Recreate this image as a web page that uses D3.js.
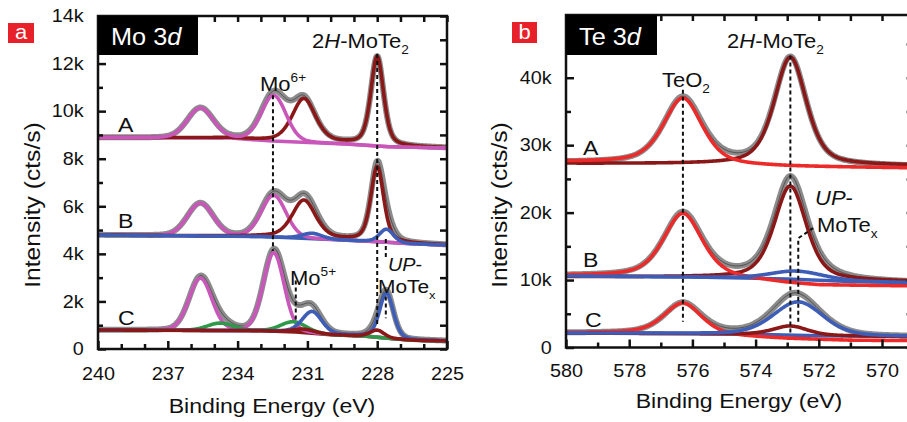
<!DOCTYPE html>
<html><head><meta charset="utf-8">
<script src="https://cdn.jsdelivr.net/npm/d3@7"></script>
<style>body{margin:0;background:#fff}svg{display:block}text{font-family:"Liberation Sans",Arial,Helvetica,sans-serif}</style>
</head><body><svg id="c" width="907" height="422"></svg>
<script>
// ---------- DATA ----------
// Panel a: Mo 3d
const moTicksX = [240, 237, 234, 231, 228, 225];
const moMinorX = [239,238,236,235,233,232,230,229,227,226];
const moTicksY = [0, 2000, 4000, 6000, 8000, 10000, 12000, 14000];
const moTickLabelsY = ["0","2k","4k","6k","8k","10k","12k","14k"];
const moMinorY = [1000, 3000, 5000, 7000, 9000, 11000, 13000];
// backgrounds [eV, cts/s]
const moBgA = [[240,8890],[234.3,8870],[232.5,8740],[229.4,8620],[227.5,8500],[225,8450]];
const moBgB = [[240,4790],[233,4730],[230,4600],[228,4510],[226.5,4420],[225,4370]];
const moBgC = [[240,800],[233,770],[231.5,710],[230,600],[228.5,540],[227.3,430],[226.5,370],[225,340]];
// peaks [centre eV, height cts/s, FWHM eV]
const moA_maroon = [[231.15,1830,1.2],[228.0,3750,0.65]];
const moA_pink   = [[235.6,1250,1.3],[232.45,1920,1.25]];
const moB_pink   = [[235.6,1370,1.3],[232.45,1750,1.25]];
const moB_maroon = [[231.15,1600,1.2],[228.0,3140,0.65]];
const moB_blue   = [[230.8,230,1.0],[227.6,550,0.7]];
const moC_pink   = [[235.6,2190,1.15],[232.45,3290,1.05]];
const moC_green  = [[234.75,310,1.3],[231.6,430,1.3]];
const moC_blue   = [[230.8,915,1.0],[227.6,1890,0.7]];
const moC_maroon = [[231.15,150,1.1],[228.0,300,0.7]];
// guide lines [eV, from cts/s, to cts/s]
const moGuides = [[232.48,10670,4125],[228.0,12400,1000],[231.5,2875,1200],[227.63,4625,3790],[227.63,2210,1290]];

// Panel b: Te 3d
const teTicksX = [580, 578, 576, 574, 572, 570];
const teMinorX = [579, 577, 575, 573, 571, 569];
const teTicksY = [0, 10000, 20000, 30000, 40000];
const teTickLabelsY = ["0","10k","20k","30k","40k"];
const teMinorY = [5000, 15000, 25000, 35000, 45000];
const teBgA = [[580,27400],[576,27250],[574,27050],[572,26850],[569,26800]];
const teBgA_red = [[580,27530],[577.5,27450],[576.3,27250],[575,27000],[573,26800],[569,26600]];
const teBgA_maroon = [[580,27290],[576,27200],[574,27150],[572.9,27050],[571.5,26950],[569,26950]];
const teBgB = [[580,10600],[576,10450],[574,10250],[573,10150],[571,9800],[569,9600]];
const teBgB_red = [[580,10650],[577,10550],[576.3,10450],[575,10250],[574,9950],[573,9500],[572,9200],[569,9100]];
const teBgB_maroon = [[580,10500],[576,10400],[574,10250],[572,9900],[569,9750]];
const teBgC = [[580,2150],[576,2050],[574,1950],[572,1750],[570,1650],[569,1630]];
const teBgC_red = [[580,2200],[577,2150],[576,2000],[575,1700],[573,1300],[571,1050],[569,1000]];
const teA_red    = [[576.3,9750,1.45]];
const teA_maroon = [[572.9,16000,1.2]];
const teB_red    = [[576.3,9450,1.45]];
const teB_maroon = [[572.9,13900,1.2]];
const teB_blue   = [[572.7,1230,2.0]];
const teC_red    = [[576.3,4550,1.4]];
const teC_maroon = [[572.9,1350,1.3]];
const teC_blue   = [[572.65,4950,1.85]];
const teGuides = [[576.3,38200,3800],[572.9,43300,1850]];
const teLeader = [[572.65,3800],[572.65,16200],[572.18,17700]];

// ---------- STYLE ----------
const PINK="#c957ba", MAROON="#8a1818", BLUE="#3e5db6", GREEN="#2f994a", RED="#ec2a2a", GRAY="#8c8c8c", LABELRED="#e8202a";
const SX = 1.1;
const svg = d3.select("#c");

function pv(E, c, a, w, eta){ const d=(E-c)/w; return a*(eta/(1+4*d*d)+(1-eta)*Math.exp(-4*Math.LN2*d*d)); }
function bgAt(pts, E){
  const s = pts.slice().sort((p,q)=>p[0]-q[0]);
  if (E<=s[0][0]) return s[0][1];
  if (E>=s[s.length-1][0]) return s[s.length-1][1];
  for (let i=1;i<s.length;i++) if (E<=s[i][0]) { const t=(E-s[i-1][0])/(s[i][0]-s[i-1][0]); return s[i-1][1]+t*(s[i][1]-s[i-1][1]); }
}
function label(g, x, y, parts, size, opts){
  opts = opts||{};
  const t = g.append("text").attr("transform",`translate(${x},${y}) scale(${SX},1)`)
    .attr("font-size", size).attr("text-anchor", opts.anchor||"start").attr("fill", opts.fill||"#111");
  let shift = 0;
  parts.forEach(p => {
    const [s, st] = p;
    const ts = t.append("tspan").text(s);
    let target = 0;
    if (st==="sub") { ts.attr("font-size", size*0.62); target = size*0.32; }
    else if (st==="sup") { ts.attr("font-size", size*0.62); target = -size*0.45; }
    else if (st==="i") { ts.attr("font-style","italic"); }
    if (target!==shift) { ts.attr("dy", target-shift); shift = target; }
  });
  return t;
}

function drawPanel(cfg){
  const x = d3.scaleLinear().domain(cfg.xDom).range(cfg.xRange);
  const y = d3.scaleLinear().domain(cfg.yDom).range(cfg.yRange);
  const g = svg.append("g");
  const [x0,x1] = cfg.xRange, [yb,yt] = cfg.yRange;
  const id = "clip"+cfg.id;
  svg.append("defs").append("clipPath").attr("id",id).append("rect")
    .attr("x",x0).attr("y",yt).attr("width",x1-x0).attr("height",yb-yt);
  const plot = g.append("g").attr("clip-path",`url(#${id})`);
  const lo = Math.min(...cfg.xDom), hi = Math.max(...cfg.xDom);
  const Es = d3.range(lo, hi+1e-9, 0.03);
  const line = d3.line().x(d=>x(d[0])).y(d=>y(d[1]));
  cfg.spectra.forEach(sp => {
    const total = Es.map(E => { let v = bgAt(sp.bg,E); sp.comps.forEach(c => c.peaks.forEach(p => v += pv(E,p[0],p[1],p[2],c.eta))); return [E,v]; });
    plot.append("path").datum(total).attr("d",line).attr("fill","none").attr("stroke",GRAY).attr("stroke-width",6).attr("stroke-linejoin","round");
    plot.append("path").datum(total).attr("d",line).attr("fill","none").attr("stroke","#222").attr("stroke-width",1).attr("opacity",0.55);
    if (sp.bgColor) plot.append("path").datum(sp.bg.slice().sort((a,b)=>a[0]-b[0])).attr("d",line).attr("fill","none").attr("stroke",sp.bgColor).attr("stroke-width",3.5);
    sp.comps.forEach(c => {
      const bgp = c.bg || sp.bg;
      const d = Es.map(E => { let v = bgAt(bgp,E); c.peaks.forEach(p => v += pv(E,p[0],p[1],p[2],c.eta)); return [E,v]; });
      plot.append("path").datum(d).attr("d",line).attr("fill","none").attr("stroke",c.color).attr("stroke-width",3.6).attr("stroke-linejoin","round");
    });
  });
  // guides
  cfg.guides.forEach(gd => {
    g.append("line").attr("x1",x(gd[0])).attr("x2",x(gd[0])).attr("y1",y(gd[1])).attr("y2",y(gd[2]))
      .attr("stroke","#111").attr("stroke-width",2).attr("stroke-dasharray","4,3");
  });
  if (cfg.leader) g.append("path").datum(cfg.leader).attr("d",line).attr("fill","none").attr("stroke","#111").attr("stroke-width",2).attr("stroke-dasharray","4,3");
  // axes
  const styleAxis = a => { a.select(".domain").remove(); a.selectAll("line").attr("stroke","#111").attr("stroke-width",2.5); a.selectAll("text").attr("font-size",18).attr("fill","#111").attr("font-family","Liberation Sans, Arial, sans-serif"); };
  g.append("g").attr("transform",`translate(0,${yb})`).call(d3.axisBottom(x).tickValues(cfg.xMajor).tickSize(-8).tickPadding(cfg.xPad).tickFormat(d3.format("d"))).call(styleAxis)
    .selectAll("text").attr("transform",`scale(${SX},1)`);
  g.append("g").attr("transform",`translate(0,${yb})`).call(d3.axisBottom(x).tickValues(cfg.xMinor).tickSize(-5).tickFormat("")).call(styleAxis);
  g.append("g").attr("transform",`translate(0,${yt})`).call(d3.axisTop(x).tickValues(cfg.xMajor.concat(cfg.xMinor)).tickSize(-6).tickFormat("")).call(styleAxis);
  g.append("g").attr("transform",`translate(${x0},0)`).call(d3.axisLeft(y).tickValues(cfg.yMajor).tickSize(-8).tickPadding(13).tickFormat((d,i)=>cfg.yLabels[i])).call(styleAxis)
    .selectAll("text").attr("transform",`scale(${SX},1)`);
  g.append("g").attr("transform",`translate(${x0},0)`).call(d3.axisLeft(y).tickValues(cfg.yMinor).tickSize(-5).tickFormat("")).call(styleAxis);
  g.append("g").attr("transform",`translate(${x1},0)`).call(d3.axisRight(y).tickValues(cfg.yMajor.concat(cfg.yMinor)).tickSize(-7).tickFormat("")).call(styleAxis);
  g.append("rect").attr("x",x0).attr("y",yt).attr("width",x1-x0).attr("height",yb-yt).attr("fill","none").attr("stroke","#111").attr("stroke-width",2.5);
  // titles
  label(g, cfg.xTitleX, cfg.xTitleY, [["Binding Energy (eV)"]], 21, {anchor:"middle"});
  g.append("text").attr("transform",`translate(${cfg.yTitleX},${cfg.yTitleY}) rotate(-90) scale(1.12,1)`)
    .attr("font-size",22).attr("text-anchor","middle").attr("fill","#111").text("Intensity (cts/s)");
  return {g,x,y};
}

const pa = drawPanel({
  id:"a", xDom:[240,225], xRange:[98,447], yDom:[0,14000], yRange:[349,16],
  xMajor:moTicksX, xMinor:moMinorX, yMajor:moTicksY, yMinor:moMinorY, yLabels:moTickLabelsY, xPad:18,
  xTitleX:272, xTitleY:413, yTitleX:40, yTitleY:205,
  spectra:[
    {bg:moBgA, bgColor:PINK, comps:[{color:MAROON,peaks:moA_maroon,eta:0.45},{color:PINK,peaks:moA_pink,eta:0.12}]},
    {bg:moBgB, bgColor:BLUE, comps:[{color:PINK,peaks:moB_pink,eta:0.12},{color:MAROON,peaks:moB_maroon,eta:0.45},{color:BLUE,peaks:moB_blue,eta:0.3}]},
    {bg:moBgC, bgColor:MAROON, comps:[{color:PINK,peaks:moC_pink,eta:0.12},{color:GREEN,peaks:moC_green,eta:0.1},{color:BLUE,peaks:moC_blue,eta:0.3},{color:MAROON,peaks:moC_maroon,eta:0.3}]}
  ],
  guides:moGuides
});
const pb = drawPanel({
  id:"b", xDom:[580,569], xRange:[566,913.6], yDom:[0,49300], yRange:[347.5,15],
  xMajor:teTicksX, xMinor:teMinorX, yMajor:teTicksY, yMinor:teMinorY, yLabels:teTickLabelsY, xPad:16.5,
  xTitleX:739, xTitleY:408, yTitleX:507, yTitleY:205,
  spectra:[
    {bg:teBgA, bgColor:null, comps:[{color:MAROON,peaks:teA_maroon,eta:0.5,bg:teBgA_maroon},{color:RED,peaks:teA_red,eta:0.5,bg:teBgA_red}]},
    {bg:teBgB, bgColor:BLUE, comps:[{color:MAROON,peaks:teB_maroon,eta:0.5,bg:teBgB_maroon},{color:RED,peaks:teB_red,eta:0.5,bg:teBgB_red},{color:BLUE,peaks:teB_blue,eta:0.3}]},
    {bg:teBgC, bgColor:BLUE, comps:[{color:RED,peaks:teC_red,eta:0.5,bg:teBgC_red},{color:MAROON,peaks:teC_maroon,eta:0.4},{color:BLUE,peaks:teC_blue,eta:0.3}]}
  ],
  guides:teGuides, leader:teLeader
});

// ---------- ANNOTATIONS ----------
function badge(x, y, w, h, s){
  svg.append("rect").attr("x",x).attr("y",y).attr("width",w).attr("height",h).attr("fill",LABELRED);
  label(svg, x+w/2, y+h-4, [[s]], 20, {anchor:"middle", fill:"#fff"});
}
badge(8, 23, 26, 20, "a");
badge(512, 22, 25, 21, "b");
svg.append("rect").attr("x",98).attr("y",16).attr("width",100).attr("height",39).attr("fill","#000");
label(svg, 111, 45, [["Mo 3"],["d","i"]], 23, {fill:"#fff"});
svg.append("rect").attr("x",566).attr("y",15).attr("width",91).attr("height",40).attr("fill","#000");
label(svg, 579, 45, [["Te 3"],["d","i"]], 23, {fill:"#fff"});

label(svg, 312, 48, [["2"],["H","i"],["-MoTe"],["2","sub"]], 20);
label(svg, 260, 91, [["Mo"],["6+","sup"]], 20);
label(svg, 290, 285, [["Mo"],["5+","sup"]], 20);
label(svg, 388, 271, [["UP","i"],["-"]], 18);
label(svg, 378, 293, [["MoTe"],["x","sub"]], 19);
label(svg, 118, 132, [["A"]], 21);
label(svg, 118, 228, [["B"]], 21);
label(svg, 118, 325, [["C"]], 21);

label(svg, 727, 48, [["2"],["H","i"],["-MoTe"],["2","sub"]], 20);
label(svg, 662, 87, [["TeO"],["2","sub"]], 20);
label(svg, 815, 205, [["UP","i"],["-"]], 20);
label(svg, 817, 232, [["MoTe"],["x","sub"]], 20);
label(svg, 583, 155, [["A"]], 21);
label(svg, 583, 267, [["B"]], 21);
label(svg, 585, 327, [["C"]], 21);
</script></body></html>
